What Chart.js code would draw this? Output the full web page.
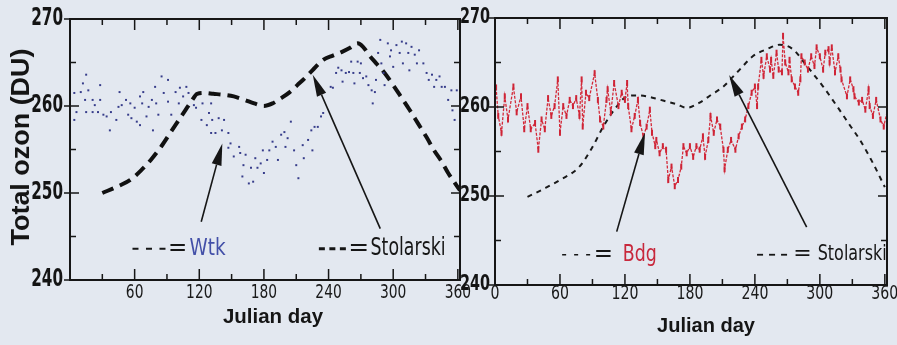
<!DOCTYPE html>
<html><head><meta charset="utf-8">
<script src="https://cdn.jsdelivr.net/npm/chart.js@4.4.1/dist/chart.umd.min.js"></script>
<style>
html,body{margin:0;padding:0;background:#e3e8f0;width:897px;height:345px;overflow:hidden;position:relative}
#cL{position:absolute;left:0;top:0}
#cR{position:absolute;left:440px;top:0}
</style></head><body>
<canvas id="cL" width="520" height="345"></canvas>
<canvas id="cR" width="470" height="345"></canvas>
<script>
// ---------- DATA ----------
const xTicksLeft = [60, 120, 180, 240, 300, 360];
const xTicksRight = [0, 60, 120, 180, 240, 300, 360];
const yTicks = [240, 250, 260, 270];
const xMinorTicks = [30, 60, 90, 120, 150, 180, 210, 240, 270, 300, 330, 360];
const yMinorTicks = [245, 250, 255, 260, 265];

// Wtk (left panel, dots)
const wtkDay = [4,4,6,10,12,14,15,15,17,21,21,23,26,28,28,31,34,37,38,43,45,46,48,52,54,56,57,60,62,65,65,67,68,71,73,76,77,79,80,82,85,87,91,91,94,98,101,102,105,108,110,115,117,122,
123,127,129,131,131,132,135,138,141,143,147,147,149,152,157,158,160,161,163,166,168,170,172,174,177,179,180,183,185,188,191,193,196,199,200,202,205,208,210,212,216,217,221,224,225,227,230,233,235,242,
244,247,249,252,253,256,259,261,263,264,267,269,270,272,275,277,280,281,283,284,286,288,289,291,292,295,297,298,300,303,306,308,309,312,314,315,317,320,322,324,328,331,333,336,338,340,343,345,348,351,354,355,357,359];
const wtkValue = [261.5,258.4,259.3,261.6,262.6,260.7,263.6,259.3,261.8,260.7,259.3,260.1,259.3,262.4,260.7,259.0,258.8,257.2,259.3,258.4,259.9,261.6,260.1,260.7,259.0,260.3,258.6,259.8,258.2,257.8,261.1,260.3,261.6,258.8,259.9,260.7,257.2,262.2,260.3,259.0,263.4,261.5,263.0,260.5,259.0,261.6,260.3,262.1,261.1,262.2,261.5,260.1,259.8,258.4,
260.3,257.8,259.2,260.3,256.9,258.4,256.9,258.6,257.2,258.4,256.9,255.2,255.7,254.2,255.3,254.6,251.9,253.2,254.4,251.1,252.9,251.3,254.0,252.9,253.4,254.9,252.3,253.8,254.9,255.9,255.3,253.8,256.7,257.0,255.3,256.3,258.2,254.9,253.2,251.7,255.5,254.0,256.1,257.2,254.9,257.6,257.6,258.8,259.2,262.2,
262.1,263.8,264.4,264.1,262.8,263.8,263.9,265.1,263.8,262.6,265.1,263.8,264.9,263.2,263.4,262.4,261.8,260.3,261.6,263.0,266.1,267.6,264.9,263.8,262.4,267.2,265.7,266.4,264.5,267.0,266.1,267.4,264.9,267.2,266.1,264.1,266.8,265.9,264.9,266.4,264.9,263.8,263.0,263.6,262.2,263.0,263.4,262.2,262.2,260.7,261.8,259.5,258.4,261.8];

// Stolarski (left panel)
const stolLeftDay = [30,45,56,66,75,85,93,100,107,113,118,125,133,142,152,162,171,180,188,196,204,211,218,225,235,244,252,260,267,272,278,285,292,300,307,315,323,331,338,345,351,357,362];
const stolLeftValue = [250.0,250.8,251.5,252.6,253.8,255.4,256.9,258.2,259.5,260.6,261.4,261.5,261.4,261.3,261.1,260.7,260.3,260.0,260.3,260.9,261.6,262.4,263.2,264.1,265.3,265.8,266.2,266.7,267.2,266.8,265.8,264.8,263.8,262.4,261.1,259.6,258.0,256.4,254.9,253.6,252.3,251.2,250.3];

// Bdg (right panel)
const bdgDay = [1,3,6,9,12,17,20,24,27,30,33,37,40,43,46,49,52,55,58,60,63,66,69,72,75,78,80,81,84,87,92,95,97,100,103,104,107,110,114,117,120,122,123,126,129,132,134,137,140,143,145,148,149,152,155,158,160,163,166,169,172,174,177,180,183,186,189,192,194,197,199,202,205,208,211,212,215,218,222,225,228,231,234,237,240,242,243,246,248,251,254,255,257,260,262,265,266,268,271,272,274,277,280,282,283,286,289,292,295,297,300,303,305,308,309,311,314,317,319,320,325,328,331,332,336,339,342,345,346,349,352,356,359,362];
const bdgValue = [262.2,259.0,257.1,261.2,258.6,262.3,259.4,261.2,257.5,260.1,257.5,258.2,255.2,258.6,257.5,261.0,259.0,260.1,263.1,257.1,260.1,259.0,260.8,260.1,261.0,259.0,263.1,257.8,261.6,261.0,263.8,260.8,258.6,257.8,260.8,262.0,259.4,262.7,260.1,261.6,260.8,262.7,260.1,257.5,259.0,260.8,258.2,256.7,257.8,259.7,257.1,255.6,256.3,254.8,255.6,255.2,251.8,253.3,251.1,251.8,253.3,255.6,254.8,255.6,254.4,255.6,255.2,256.7,254.4,256.3,259.0,257.1,258.6,257.8,255.2,253.0,255.2,256.3,255.2,256.7,257.8,258.6,260.1,261.6,262.3,260.1,262.3,265.3,263.5,265.7,264.2,265.3,263.5,266.1,264.2,263.9,268.0,265.0,263.9,265.3,263.1,262.3,261.6,263.1,265.7,265.0,264.2,265.7,264.6,266.7,265.7,264.2,266.1,266.5,265.0,266.7,263.9,265.7,264.2,263.1,261.2,263.1,262.0,261.2,260.5,260.8,259.7,262.0,260.1,259.0,260.8,258.6,257.8,259.4];

// Stolarski (right panel)
const stolRightDay = [30,45,60,78,90,100,112,122,131,140,150,159,168,177,189,200,211,219,226,238,251,263,275,288,303,318,328,337,349,360];
const stolRightValue = [249.9,250.8,251.8,253.3,255.5,257.8,260.0,261.2,261.3,261.2,260.9,260.6,260.3,259.9,260.5,261.4,262.3,263.3,264.2,265.7,266.5,267.0,266.5,264.6,262.3,259.7,257.9,256.3,253.7,251.0];

// ---------- HELPERS ----------
const NUMF = "'DejaVu Sans',sans-serif";
const BOLDF = "'Liberation Sans',Arial,sans-serif";
const pts = (xs, ys) => xs.map((d, i) => ({x: d, y: ys[i]}));

// draw text squeezed horizontally to a target width (narrow typeface look)
function sq(ctx, text, x, y, align, font, targetW, color, rot) {
  ctx.save();
  ctx.font = font;
  const w = ctx.measureText(text).width;
  const sx = targetW ? targetW / w : 1;
  ctx.translate(x, y);
  if (rot) ctx.rotate(rot);
  ctx.scale(sx, 1);
  ctx.textAlign = align; ctx.textBaseline = 'middle'; ctx.fillStyle = color;
  ctx.fillText(text, 0, 0);
  ctx.restore();
}

const frameTicks = {
  id: 'frameTicks',
  afterDatasetsDraw(chart, args, o) {
    const {ctx, chartArea: a, scales: {x, y}} = chart;
    ctx.save();
    ctx.strokeStyle = '#161616';
    ctx.lineWidth = o.tw;
    ctx.beginPath();
    xMinorTicks.forEach(v => {
      const px = x.getPixelForValue(v);
      const L = v % 60 === 0 ? 11 : 6;
      ctx.moveTo(px, a.bottom); ctx.lineTo(px, a.bottom - L);
      ctx.moveTo(px, a.top); ctx.lineTo(px, a.top + L);
    });
    yMinorTicks.forEach(v => {
      const py = y.getPixelForValue(v);
      const L = v % 10 === 0 ? 9 : 6;
      ctx.moveTo(a.left, py); ctx.lineTo(a.left + L, py);
      ctx.moveTo(a.right, py); ctx.lineTo(a.right - L, py);
    });
    yTicks.forEach(v => {
      const py = y.getPixelForValue(v);
      ctx.moveTo(a.left, py); ctx.lineTo(a.left - 6, py);
    });
    ctx.stroke();
    ctx.lineWidth = o.lw;
    ctx.strokeRect(a.left, a.top, a.width, a.height);
    ctx.restore();
  }
};

const arrowPlug = {
  id: 'arrows',
  afterDatasetsDraw(chart, args, o) {
    const {ctx, scales: {x, y}} = chart;
    ctx.save();
    ctx.strokeStyle = '#161616'; ctx.fillStyle = '#161616';
    o.items.forEach(it => {
      const x0 = x.getPixelForValue(it.from[0]), y0 = y.getPixelForValue(it.from[1]);
      const x1 = x.getPixelForValue(it.to[0]), y1 = y.getPixelForValue(it.to[1]);
      const ang = Math.atan2(y1 - y0, x1 - x0);
      const hl = 22, hw = 5;
      const bx = x1 - hl * Math.cos(ang), by = y1 - hl * Math.sin(ang);
      ctx.lineWidth = 1.6;
      ctx.beginPath(); ctx.moveTo(x0, y0); ctx.lineTo(bx, by); ctx.stroke();
      ctx.beginPath();
      ctx.moveTo(x1, y1);
      ctx.lineTo(bx + hw * Math.sin(ang), by - hw * Math.cos(ang));
      ctx.lineTo(bx - hw * Math.sin(ang), by + hw * Math.cos(ang));
      ctx.closePath(); ctx.fill();
    });
    ctx.restore();
  }
};

const legendPlug = {
  id: 'legendText',
  afterDatasetsDraw(chart, args, o) {
    const {ctx, scales: {x, y}} = chart;
    o.items.forEach(it => {
      const py = y.getPixelForValue(it.v);
      ctx.save();
      ctx.strokeStyle = '#161616'; ctx.lineWidth = it.dw; ctx.setLineDash(it.dash);
      ctx.beginPath(); ctx.moveTo(x.getPixelForValue(it.d0), py); ctx.lineTo(x.getPixelForValue(it.d1), py); ctx.stroke();
      ctx.restore();
      sq(ctx, '=', x.getPixelForValue(it.eq), py, 'center', it.size + 'px ' + NUMF, 0, '#161616');
      sq(ctx, it.name, x.getPixelForValue(it.nx), py, 'left', it.size + 'px ' + NUMF, it.w, it.color);
    });
  }
};

const axisText = {
  id: 'axisText',
  afterDraw(chart, args, o) {
    const {ctx, chartArea: a, scales: {x, y}} = chart;
    x.ticks.forEach(t => {
      const s = String(t.value);
      sq(ctx, s, x.getPixelForValue(t.value), a.bottom + o.xDy, 'center',
        o.xSize + 'px ' + NUMF, o.xDigitW * s.length, '#1a1a1a');
    });
    y.ticks.forEach(t => {
      const s = String(t.value);
      sq(ctx, s, a.left - o.yGap, y.getPixelForValue(t.value), 'right',
        'bold ' + o.ySize + 'px ' + NUMF, o.yDigitW * s.length, '#141414');
    });
    sq(ctx, 'Julian day', (a.left + a.right) / 2 + o.tDx, o.tY, 'center',
      'bold 21px ' + BOLDF, o.tW, '#151515');
    if (o.yTitle) {
      sq(ctx, o.yTitle.text, o.yTitle.x, o.yTitle.y, 'center',
        'bold 26px ' + BOLDF, o.yTitle.w, '#151515', -Math.PI / 2);
    }
  }
};

function makeChart(id, cfg) {
  return new Chart(document.getElementById(id), {
    type: 'scatter',
    data: {datasets: cfg.datasets},
    options: {
      responsive: false, animation: false, devicePixelRatio: 1,
      layout: {padding: cfg.pad},
      plugins: {legend: {display: false}, tooltip: {enabled: false},
        frameTicks: {lw: cfg.lw, tw: 1.5},
        arrows: {items: cfg.arrows},
        legendText: {items: cfg.legend},
        axisText: cfg.text},
      scales: {
        x: {type: 'linear', min: 0, max: 362,
          afterBuildTicks: s => { s.ticks = cfg.xTicks.map(v => ({value: v})); },
          afterFit: s => { s.height = cfg.xh; },
          grid: {display: false, drawTicks: false}, border: {display: false},
          ticks: {display: false}
        },
        y: {type: 'linear', min: 240, max: 270,
          afterBuildTicks: s => { s.ticks = yTicks.map(v => ({value: v})); },
          afterFit: s => { s.width = cfg.yw; },
          grid: {display: false, drawTicks: false}, border: {display: false},
          ticks: {display: false}
        }
      }
    },
    plugins: [frameTicks, arrowPlug, legendPlug, axisText]
  });
}

makeChart('cL', {
  pad: {left: 0, right: 60, top: 19, bottom: 14},
  lw: 2, xTicks: xTicksLeft, xh: 51, yw: 70,
  text: {xDy: 13, xSize: 19, xDigitW: 8.8, yGap: 7, ySize: 24, yDigitW: 10.6,
    tDx: 8, tY: 317, tW: 100,
    yTitle: {text: 'Total ozon (DU)', x: 22, y: 147, w: 197}},
  datasets: [
    {label: 'Wtk', data: pts(wtkDay, wtkValue), pointStyle: 'rect', pointRadius: 1.4,
      backgroundColor: '#363c8a', borderColor: '#363c8a', borderWidth: 0},
    {label: 'Stolarski', type: 'line', data: pts(stolLeftDay, stolLeftValue), showLine: true,
      borderColor: '#111', borderWidth: 4, borderDash: [12, 7], pointRadius: 0,
      cubicInterpolationMode: 'monotone', fill: false}
  ],
  arrows: [{from: [121.8, 246.7], to: [141.4, 255.7]}, {from: [288, 245.9], to: [225.3, 263.6]}],
  legend: [
    {v: 243.6, d0: 58, d1: 91, dw: 2, dash: [6, 7.5], eq: 100, nx: 111, name: 'Wtk', color: '#4350a8', size: 23, w: 36},
    {v: 243.6, d0: 231, d1: 258, dw: 3, dash: [6, 4.5], eq: 268, nx: 279, name: 'Stolarski', color: '#161616', size: 25, w: 75}
  ]
});

makeChart('cR', {
  pad: {left: 0, right: 23, top: 18, bottom: 5},
  lw: 2, xTicks: xTicksRight, xh: 55, yw: 55,
  text: {xDy: 9, xSize: 20, xDigitW: 9, yGap: 5, ySize: 21, yDigitW: 10,
    tDx: 15, tY: 326, tW: 98, yTitle: null},
  datasets: [
    {label: 'Bdg', type: 'line', data: pts(bdgDay, bdgValue), showLine: true,
      borderColor: '#d42a3a', borderWidth: 1.3, borderDash: [3, 1.5], tension: 0, fill: false,
      pointStyle: 'line', pointRotation: 90, pointRadius: 3, pointBorderWidth: 2,
      pointBorderColor: '#cf2436', pointBackgroundColor: '#cf2436'},
    {label: 'Stolarski', type: 'line', data: pts(stolRightDay, stolRightValue), showLine: true,
      borderColor: '#1a1a1a', borderWidth: 2, borderDash: [5, 5], pointRadius: 0,
      cubicInterpolationMode: 'monotone', fill: false}
  ],
  arrows: [{from: [112.4, 246.0], to: [138.5, 257.1]}, {from: [287.8, 246.5], to: [216.2, 263.6]}],
  legend: [
    {v: 243.4, d0: 62, d1: 90, dw: 1.5, dash: [4, 8], eq: 100, nx: 118, name: 'Bdg', color: '#c8283c', size: 23, w: 34},
    {v: 243.4, d0: 242, d1: 272, dw: 1.8, dash: [6, 6], eq: 284, nx: 298, name: 'Stolarski', color: '#161616', size: 22, w: 69}
  ]
});
</script></body></html>
